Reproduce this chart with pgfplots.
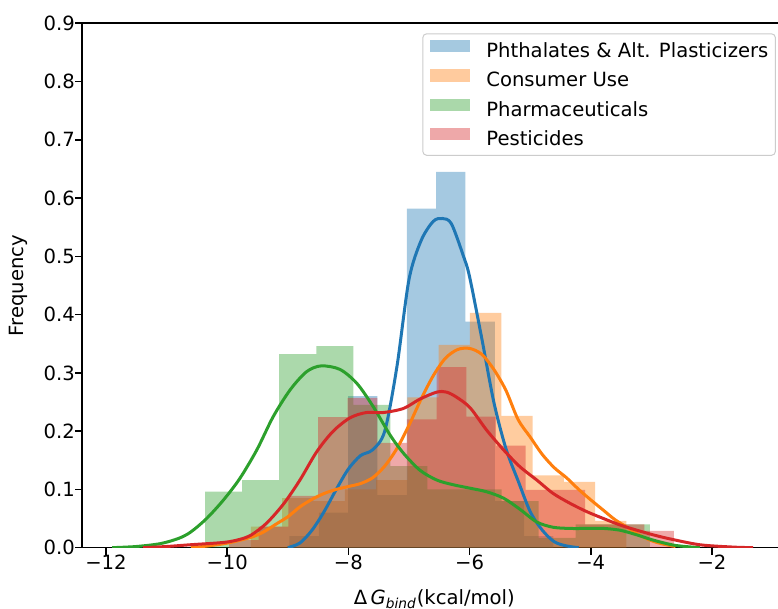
\documentclass[border=0pt]{standalone}
\usepackage{fontspec}
\setmainfont{DejaVu Sans}
\usepackage{pgfplots}
\pgfplotsset{compat=1.18}
\definecolor{c0}{HTML}{1F77B4}
\definecolor{c1}{HTML}{FF7F0E}
\definecolor{c2}{HTML}{2CA02C}
\definecolor{c3}{HTML}{D62728}
\pgfplotsset{hist legend/.style={area legend,
  legend image code/.code={\fill[##1, draw=none, draw opacity=0, sharp corners] (0pt,0pt) rectangle (20pt,6.2pt);}}}
\begin{document}
\begin{tikzpicture}
\begin{axis}[
  scale only axis,
  width=352.1pt, height=262.2pt,
  xmin=-12.391, xmax=-0.77, ymin=0, ymax=0.9,
  font=\fontsize{9.8}{11.8}\selectfont,
  axis line style={line width=0.8pt},
  xtick={-12,-10,-8,-6,-4,-2},
  xticklabels={−12,−10,−8,−6,−4,−2},
  ytick={0,0.1,0.2,0.3,0.4,0.5,0.6,0.7,0.8,0.9},
  yticklabels={0.0,0.1,0.2,0.3,0.4,0.5,0.6,0.7,0.8,0.9},
  xtick pos=left, ytick pos=left,
  tick align=outside,
  major tick length=3.5pt,
  every tick/.style={black, line width=0.8pt},
  xticklabel style={anchor=north, inner sep=0pt},
  yticklabel style={anchor=east, inner sep=0pt},
  xlabel={Δ\,\textit{G}\textsubscript{\textit{bind}}(kcal/mol)},
  ylabel={Frequency},
  x label style={at={(axis description cs:0.5,0)}, anchor=north, inner sep=0pt, yshift=-20.8pt},
  y label style={at={(axis description cs:-0.0913,0.5)}, anchor=center, inner sep=0pt},
  legend style={at={(0.985,0.981)}, anchor=north east, draw=black!20, line width=0.5pt,
    rounded corners=2pt, fill=white, fill opacity=0.8, text opacity=1,
    inner xsep=3.5pt, inner ysep=3pt, row sep=4pt,
    nodes={inner sep=0pt, text height=7.2pt, text depth=1.8pt},
    /tikz/every odd column/.append style={column sep=8.3pt}},
  legend cell align=left,
  legend image post style={draw opacity=0},
]
\coordinate (SW) at (rel axis cs:0,0);
\coordinate (NE) at (rel axis cs:1,1);
% ---- histograms (drawn below the lines) ----
% Phthalates
\addplot[const plot, fill=c0, fill opacity=0.4, draw=none, hist legend] coordinates {
(-8.972,0.02) (-8.488,0.06) (-8.003,0.26) (-7.520,0.09) (-7.036,0.582) (-6.551,0.645) (-6.068,0.388) (-5.584,0.08) (-5.099,0.02) (-4.616,0.02)} \closedcycle;
\addlegendentry{Phthalates \& Alt. Plasticizers}
% Consumer Use
\addplot[const plot, fill=c1, fill opacity=0.4, draw=none, hist legend] coordinates {
(-9.609,0.036) (-9.092,0.085) (-8.576,0.08) (-8.059,0.1) (-7.543,0.116) (-7.026,0.258) (-6.510,0.348) (-5.993,0.403) (-5.477,0.226) (-4.960,0.124) (-4.444,0.113) (-3.927,0.046) (-3.411,0.046)} \closedcycle;
\addlegendentry{Consumer Use}
% Pharmaceuticals
\addplot[const plot, fill=c2, fill opacity=0.4, draw=none, hist legend] coordinates {
(-10.366,0.096) (-9.754,0.116) (-9.142,0.332) (-8.530,0.346) (-7.919,0.245) (-7.307,0.14) (-6.695,0.10) (-6.083,0.10) (-5.471,0.08) (-4.860,0.017) (-4.248,0.04) (-3.636,0.04) (-3.024,0.04)} \closedcycle;
\addlegendentry{Pharmaceuticals}
% Pesticides
\addplot[const plot, fill=c3, fill opacity=0.4, draw=none, hist legend] coordinates {
(-9.970,0.013) (-9.480,0.036) (-8.991,0.089) (-8.501,0.224) (-8.012,0.257) (-7.522,0.18) (-7.033,0.22) (-6.543,0.31) (-6.054,0.225) (-5.564,0.175) (-5.074,0.099) (-4.585,0.099) (-4.095,0.04) (-3.606,0.04) (-3.116,0.029) (-2.627,0.029)} \closedcycle;
\addlegendentry{Pesticides}
% ---- KDE lines ----
\addplot[c0, line width=1.5pt, smooth, forget plot] coordinates {
(-9.0,0) (-8.8,0.008) (-8.6,0.03) (-8.4,0.062) (-8.2,0.1) (-8.0,0.135) (-7.8,0.158) (-7.6,0.168) (-7.4,0.2) (-7.2,0.31) (-7.0,0.46) (-6.8,0.527) (-6.6,0.56) (-6.45,0.565) (-6.3,0.556) (-6.1,0.50) (-6.0,0.465) (-5.8,0.36) (-5.6,0.25) (-5.4,0.17) (-5.2,0.115) (-5.0,0.062) (-4.8,0.03) (-4.6,0.01) (-4.4,0.003) (-4.2,0)};
\addplot[c1, line width=1.5pt, smooth, forget plot] coordinates {
(-10.6,0.0) (-10.4,0.002) (-10.1,0.006) (-9.9,0.01) (-9.6,0.018) (-9.4,0.027) (-9.2,0.04) (-9.0,0.053) (-8.8,0.07) (-8.6,0.083) (-8.4,0.093) (-8.2,0.1) (-8.0,0.105) (-7.8,0.11) (-7.6,0.12) (-7.4,0.14) (-7.2,0.17) (-7.0,0.21) (-6.8,0.255) (-6.6,0.295) (-6.4,0.325) (-6.2,0.34) (-6.0,0.342) (-5.8,0.332) (-5.6,0.306) (-5.4,0.27) (-5.2,0.22) (-5.0,0.19) (-4.8,0.16) (-4.6,0.137) (-4.4,0.12) (-4.2,0.10) (-4.0,0.082) (-3.8,0.065) (-3.6,0.048) (-3.4,0.035) (-3.2,0.022) (-3.0,0.012) (-2.8,0.006) (-2.6,0.002)};
\addplot[c2, line width=1.5pt, smooth, forget plot] coordinates {
(-11.9,0) (-11.5,0.002) (-11.1,0.007) (-10.8,0.016) (-10.6,0.027) (-10.34,0.05) (-10.06,0.082) (-9.79,0.119) (-9.51,0.168) (-9.24,0.225) (-8.96,0.271) (-8.69,0.302) (-8.45,0.312) (-8.14,0.306) (-7.86,0.282) (-7.59,0.242) (-7.31,0.193) (-7.09,0.162) (-6.82,0.133) (-6.54,0.116) (-6.27,0.108) (-5.99,0.102) (-5.72,0.096) (-5.44,0.085) (-5.17,0.066) (-4.89,0.044) (-4.62,0.035) (-4.34,0.033) (-4.07,0.033) (-3.79,0.033) (-3.52,0.03) (-3.24,0.022) (-2.97,0.013) (-2.61,0.004) (-2.2,0)};
\addplot[c3, line width=1.5pt, smooth, forget plot] coordinates {
(-11.39,0) (-11.0,0.002) (-10.61,0.005) (-10.06,0.009) (-9.8,0.014) (-9.6,0.022) (-9.35,0.042) (-9.07,0.075) (-8.8,0.116) (-8.52,0.165) (-8.25,0.2) (-7.97,0.223) (-7.70,0.232) (-7.42,0.232) (-7.09,0.239) (-6.82,0.255) (-6.54,0.267) (-6.38,0.267) (-6.21,0.258) (-5.99,0.24) (-5.72,0.202) (-5.44,0.168) (-5.17,0.139) (-4.89,0.116) (-4.62,0.093) (-4.34,0.076) (-4.07,0.062) (-3.79,0.05) (-3.52,0.039) (-3.24,0.03) (-2.97,0.022) (-2.69,0.015) (-2.2,0.005) (-1.65,0.001) (-1.32,0)};
\end{axis}
\pgfresetboundingbox
\useasboundingbox ([xshift=-41.15pt,yshift=-30.65pt]SW) rectangle ([xshift=-4.25pt,yshift=11.65pt]NE);
\end{tikzpicture}
\end{document}
